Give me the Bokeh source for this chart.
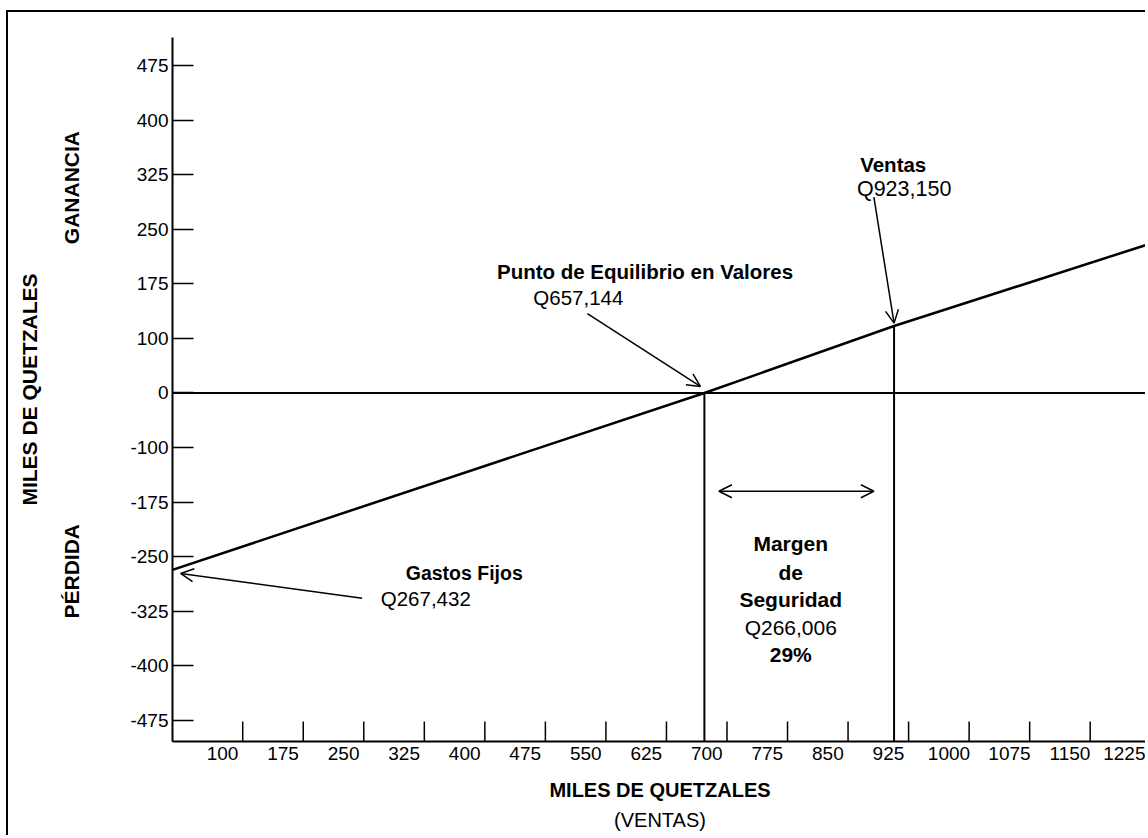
import math
import numpy as np
from bokeh.plotting import figure
from bokeh.models import Range1d, FixedTicker, Label, Span, Arrow, OpenHead, LinearAxis, Title
from bokeh.embed import file_html
from bokeh.resources import INLINE

# ---------------- data ----------------
# y-axis tick labels as printed (uniformly spaced on the chart)
y_tick_values = [475, 400, 325, 250, 175, 100, 0, -100, -175, -250, -325, -400, -475]
# x-axis tick labels (miles de quetzales, ventas)
x_tick_labels = [100, 175, 250, 325, 400, 475, 550, 625, 700, 775, 850, 925, 1000, 1075, 1150, 1225]
# small tick marks drawn on the x axis (between the labels)
x_tick_marks = [125, 200, 275, 350, 425, 500, 575, 650, 725, 800, 875, 950, 1025, 1100, 1175]

# profit / loss line as drawn (x in miles de Q, y in miles de Q)
line_x = [38, 697, 932, 1246]
line_y = [-268, 0, 117, 229]

breakeven_x, breakeven_y = 697, 0      # Punto de Equilibrio (Q657,144)
sales_x, sales_y = 932, 117            # Ventas (Q923,150)

FONT = "Liberation Sans"

# ------------- y scale helper (printed labels are evenly spaced) -------------
asc_vals = y_tick_values[::-1]
asc_pos = list(range(len(asc_vals)))


def ypos(v):
    v = np.asarray(v, dtype=float)
    p_ = np.interp(v, asc_vals, asc_pos)
    p_ = np.where(v < asc_vals[0], (v - asc_vals[0]) / 75.0, p_)
    p_ = np.where(v > asc_vals[-1], asc_pos[-1] + (v - asc_vals[-1]) / 75.0, p_)
    return p_


def yp(v):
    return float(ypos(v))


W, H = 1139, 825
p = figure(width=W, height=H, output_backend="svg", toolbar_location=None,
           x_range=Range1d(38, 1246), y_range=Range1d(-0.385, 12.513),
           min_border_left=164, min_border_right=0, min_border_top=25, min_border_bottom=96)
p.styles = {"margin-left": "6px", "margin-top": "10px",
            "border-left": "2px solid black", "border-top": "2px solid black"}
p.outline_line_color = None
p.grid.visible = False
p.background_fill_color = "white"
p.border_fill_color = "white"

# y axis
ya = p.yaxis[0]
ya.ticker = FixedTicker(ticks=asc_pos, minor_ticks=[])
ya.major_label_overrides = {int(round(yp(v))): str(v) for v in y_tick_values}
ya.major_tick_in = 21
ya.major_tick_out = 0
ya.minor_tick_in = 0
ya.minor_tick_out = 0
ya.axis_line_width = 2
ya.axis_line_color = "black"
ya.major_tick_line_width = 1.5
ya.major_tick_line_color = "black"
ya.major_label_text_font = FONT
ya.major_label_text_font_size = "19px"
ya.major_label_text_color = "black"
ya.major_label_standoff = 4

# second left axis carrying GANANCIA / PÉRDIDA and the y title
side = LinearAxis(ticker=FixedTicker(ticks=[10.8, 3.6], minor_ticks=[]),
                  major_label_overrides={10.8: "GANANCIA", 3.6: "PÉRDIDA"},
                  major_label_orientation=math.pi / 2,
                  axis_line_color=None, major_tick_in=0, major_tick_out=0,
                  minor_tick_in=0, minor_tick_out=0,
                  major_label_standoff=56, major_label_text_font=FONT,
                  major_label_text_font_style="bold", major_label_text_font_size="21px",
                  major_label_text_color="black",
                  axis_label="MILES DE QUETZALES", axis_label_standoff=5,
                  axis_label_text_font=FONT, axis_label_text_font_style="bold",
                  axis_label_text_font_size="21px", axis_label_text_color="black")
p.add_layout(side, "left")

# x axis
xa = p.xaxis[0]
xa.ticker = FixedTicker(ticks=x_tick_labels, minor_ticks=[])
xa.major_label_overrides = {v: str(v) for v in x_tick_labels}
xa.major_tick_in = 0
xa.major_tick_out = 0
xa.minor_tick_in = 0
xa.minor_tick_out = 0
xa.axis_line_width = 2
xa.axis_line_color = "black"
xa.major_label_text_font = FONT
xa.major_label_text_font_size = "19px"
xa.major_label_text_color = "black"
xa.major_label_standoff = 5
xa.axis_label = "MILES DE QUETZALES"
xa.axis_label_standoff = 16
xa.axis_label_text_font = FONT
xa.axis_label_text_font_style = "bold"
xa.axis_label_text_font_size = "20px"
xa.axis_label_text_color = "black"

p.add_layout(Title(text="(VENTAS)", align="center", text_font=FONT, text_font_size="20px",
                   text_font_style="normal", text_color="black", standoff=6), "below")

# x tick marks (inward, between the labels)
y_start = p.y_range.start
tick_len = 20 / 54.58
p.segment(x0=x_tick_marks, y0=[y_start] * len(x_tick_marks),
          x1=x_tick_marks, y1=[y_start + tick_len] * len(x_tick_marks),
          line_width=1.5, line_color="black")

# zero line
p.add_layout(Span(location=yp(0), dimension="width", line_width=2, line_color="black"))

# profit/loss line
p.line(line_x, ypos(line_y), line_width=2.5, line_color="black")

# vertical lines at breakeven and sales
p.segment(x0=[breakeven_x, sales_x], y0=[y_start, y_start],
          x1=[breakeven_x, sales_x], y1=list(ypos([breakeven_y, sales_y])),
          line_width=2, line_color="black")


def arrow(x0, y0, x1, y1, both=False):
    kw = dict(x_start=x0, y_start=yp(y0), x_end=x1, y_end=yp(y1),
              line_width=1.5, line_color="black",
              end=OpenHead(size=13, line_width=1.5, line_color="black"))
    if both:
        kw["start"] = OpenHead(size=13, line_width=1.5, line_color="black")
    p.add_layout(Arrow(**kw))


arrow(552, 134, 692, 12)            # to breakeven
arrow(907, 294, 932, 121)           # to sales
arrow(273, -307, 48, -273)          # to fixed costs
arrow(715, -160, 907, -160, both=True)  # safety margin


def label(text, x, y, bold=False, align="left", size="21px"):
    p.add_layout(Label(x=x, y=yp(y), text=text, text_font=FONT, text_font_size=size,
                       text_font_style="bold" if bold else "normal",
                       text_align=align, text_baseline="middle", text_color="black"))


label("Ventas", 890, 339, bold=True, size="20.5px")
label("Q923,150", 886, 305, size="21.5px")
label("Punto de Equilibrio en Valores", 440, 192, bold=True, size="20.5px")
label("Q657,144", 485, 156, size="20.5px")
label("Gastos Fijos", 327, -272, bold=True, size="19.5px")
label("Q267,432", 296, -307, size="20.5px")
label("Margen", 804, -232, bold=True, align="center")
label("de", 804, -272, bold=True, align="center")
label("Seguridad", 804, -309, bold=True, align="center")
label("Q266,006", 804, -347, align="center")
label("29%", 804, -384, bold=True, align="center")

open("out.html", "w").write(file_html(p, INLINE))
